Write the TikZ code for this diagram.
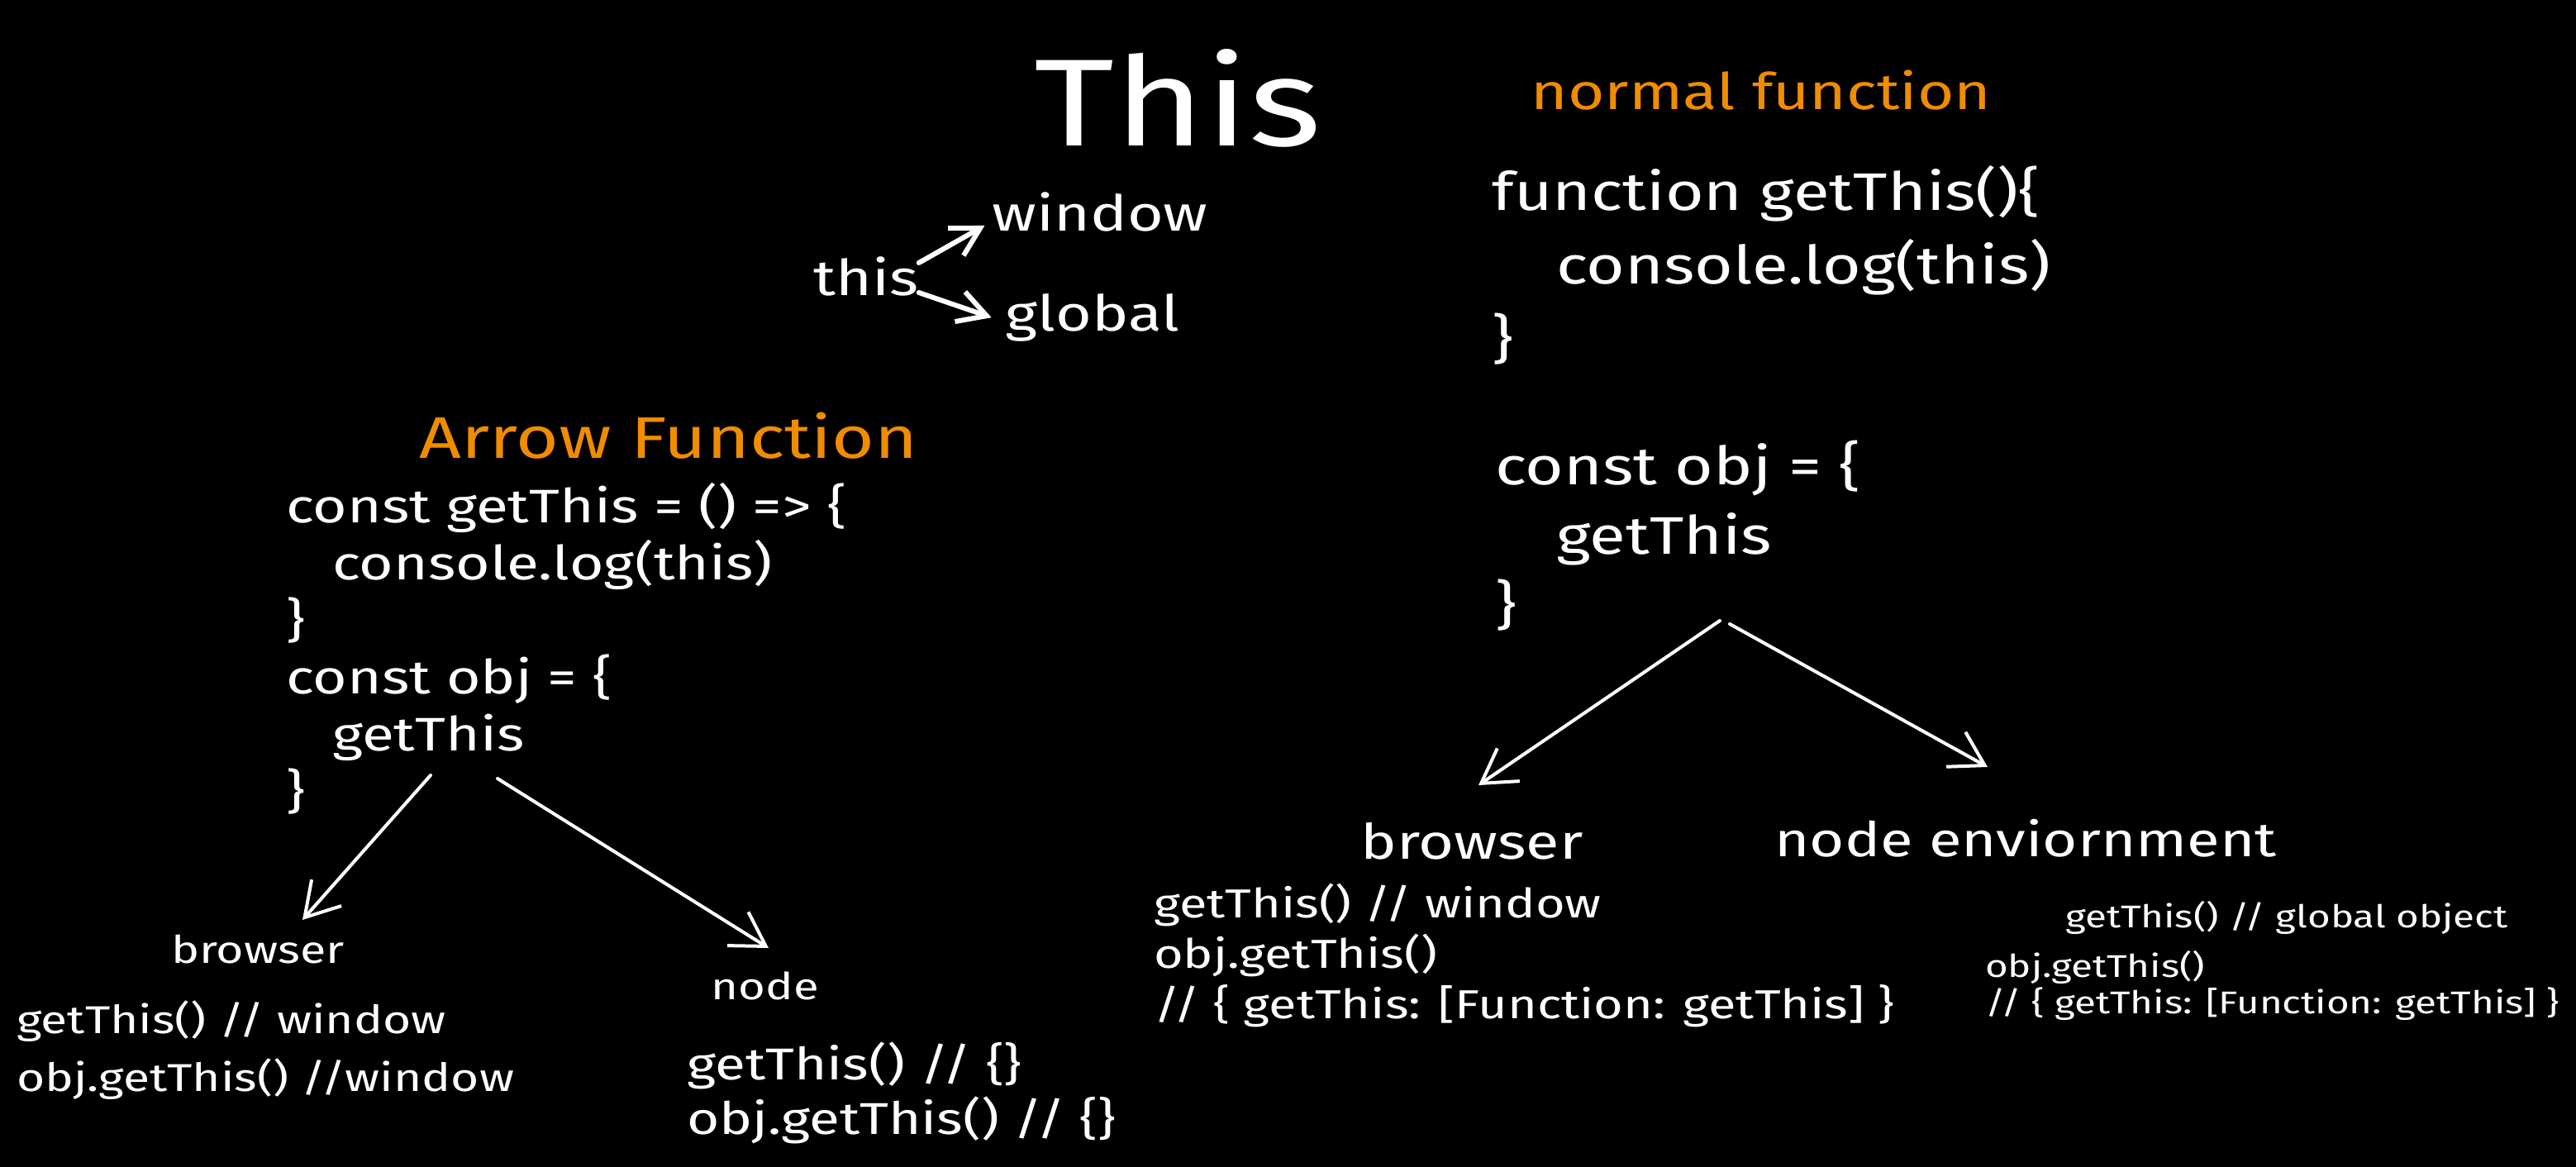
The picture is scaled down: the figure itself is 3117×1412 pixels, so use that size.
\documentclass[tikz,border=0pt]{standalone}
\usepackage{fontspec}
\setmainfont{Fira Sans}[FakeStretch=1.25]
\usetikzlibrary{arrows.meta, positioning}
\definecolor{sketchorange}{RGB}{240, 140, 0}

\begin{document}
\begin{tikzpicture}[x=1pt, y=-1pt,
  txt/.style={text=white, inner sep=0pt},
  code/.style={txt, anchor=base west, align=left},
  heading/.style={text=sketchorange, inner sep=0pt},
  arr/.style={draw=white, line width=4pt, line cap=round, -{Straight Barb[length=40pt, width=48pt]}},
  smallarr/.style={draw=white, line width=6pt, line cap=round, -{Straight Barb[length=34pt, width=38pt]}}
]
  \useasboundingbox (0,0) rectangle (3117,1412);
  \fill[black] (0,0) rectangle (3117,1412);

  % title and this -> window / global
  \node[txt, font=\fontsize{150}{180}\selectfont] (title) at (1425,119) {This};
  \node[txt, font=\fontsize{60}{72}\selectfont] (this) at (1048,334) {this};
  \node[txt, font=\fontsize{60}{72}\selectfont] (window) at (1331,256) {window};
  \node[txt, font=\fontsize{60}{72}\selectfont] (global) at (1322,384) {global};
  \draw[smallarr, shorten >=10pt] ([yshift=16pt]this.east) -- ([yshift=-12pt]window.west);
  \draw[smallarr, shorten >=18pt] ([yshift=-20pt]this.east) -- ([yshift=-6pt]global.west);

  % normal function (anchor = baseline of the last line)
  \node[heading, font=\fontsize{61}{73}\selectfont] (normal) at (2131,109) {normal function};
  \node[code, font=\fontsize{64}{89}\selectfont] (fndecl) at (1805,432) {%
    function getThis()\{\\
    \hspace*{78pt}console.log(this)\\
    \}};
  \node[code, font=\fontsize{64}{84}\selectfont] (objR) at (1809,754) {%
    const obj = \{\\
    \hspace*{74pt}getThis\\
    \}};
  \coordinate (forkR1) at (2081,751);
  \coordinate (forkR2) at (2093,755);
  \coordinate (tipR1) at (1789,950);
  \coordinate (tipR2) at (2405,928);
  \draw[arr] (forkR1) -- (tipR1);
  \draw[arr] (forkR2) -- (tipR2);

  \node[txt, font=\fontsize{59}{71}\selectfont] (brwR) at (1781,1018) {browser};
  \node[txt, font=\fontsize{58}{70}\selectfont] (envR) at (2451,1014) {node enviornment};
  \node[code, font=\fontsize{49}{61}\selectfont] (brwRcode) at (1396,1232) {%
    getThis() // window\\
    obj.getThis()\\
    // \{ getThis: [Function: getThis] \}};
  \node[code, font=\fontsize{38}{44}\selectfont] (envRcode) at (2402,1226) {%
    \hspace*{97pt}getThis() // global object\\[16pt]
    obj.getThis()\\
    // \{ getThis: [Function: getThis] \}};

  % arrow function
  \node[heading, font=\fontsize{71}{85}\selectfont] (arrowfn) at (809,527) {Arrow Function};
  \node[code, font=\fontsize{57}{69}\selectfont] (arrowcode) at (346,977) {%
    const getThis = () => \{\\
    \hspace*{56pt}console.log(this)\\
    \}\\
    const obj = \{\\
    \hspace*{56pt}getThis\\
    \}};
  \coordinate (forkL1) at (521,938);
  \coordinate (forkL2) at (602,942);
  \coordinate (tipL1) at (366,1113);
  \coordinate (tipL2) at (930,1147);
  \draw[arr] (forkL1) -- (tipL1);
  \draw[arr] (forkL2) -- (tipL2);

  \node[txt, font=\fontsize{46}{55}\selectfont] (brwL) at (312,1149) {browser};
  \node[txt, font=\fontsize{45}{54}\selectfont] (nodeL) at (926,1193) {node};
  \node[code, font=\fontsize{47}{70}\selectfont] (brwLcode) at (20,1320) {%
    getThis() // window\\
    obj.getThis() //window};
  \node[code, font=\fontsize{54}{66}\selectfont] (nodeLcode) at (831,1372) {%
    getThis() // \{\}\\
    obj.getThis() // \{\}};
\end{tikzpicture}
\end{document}
